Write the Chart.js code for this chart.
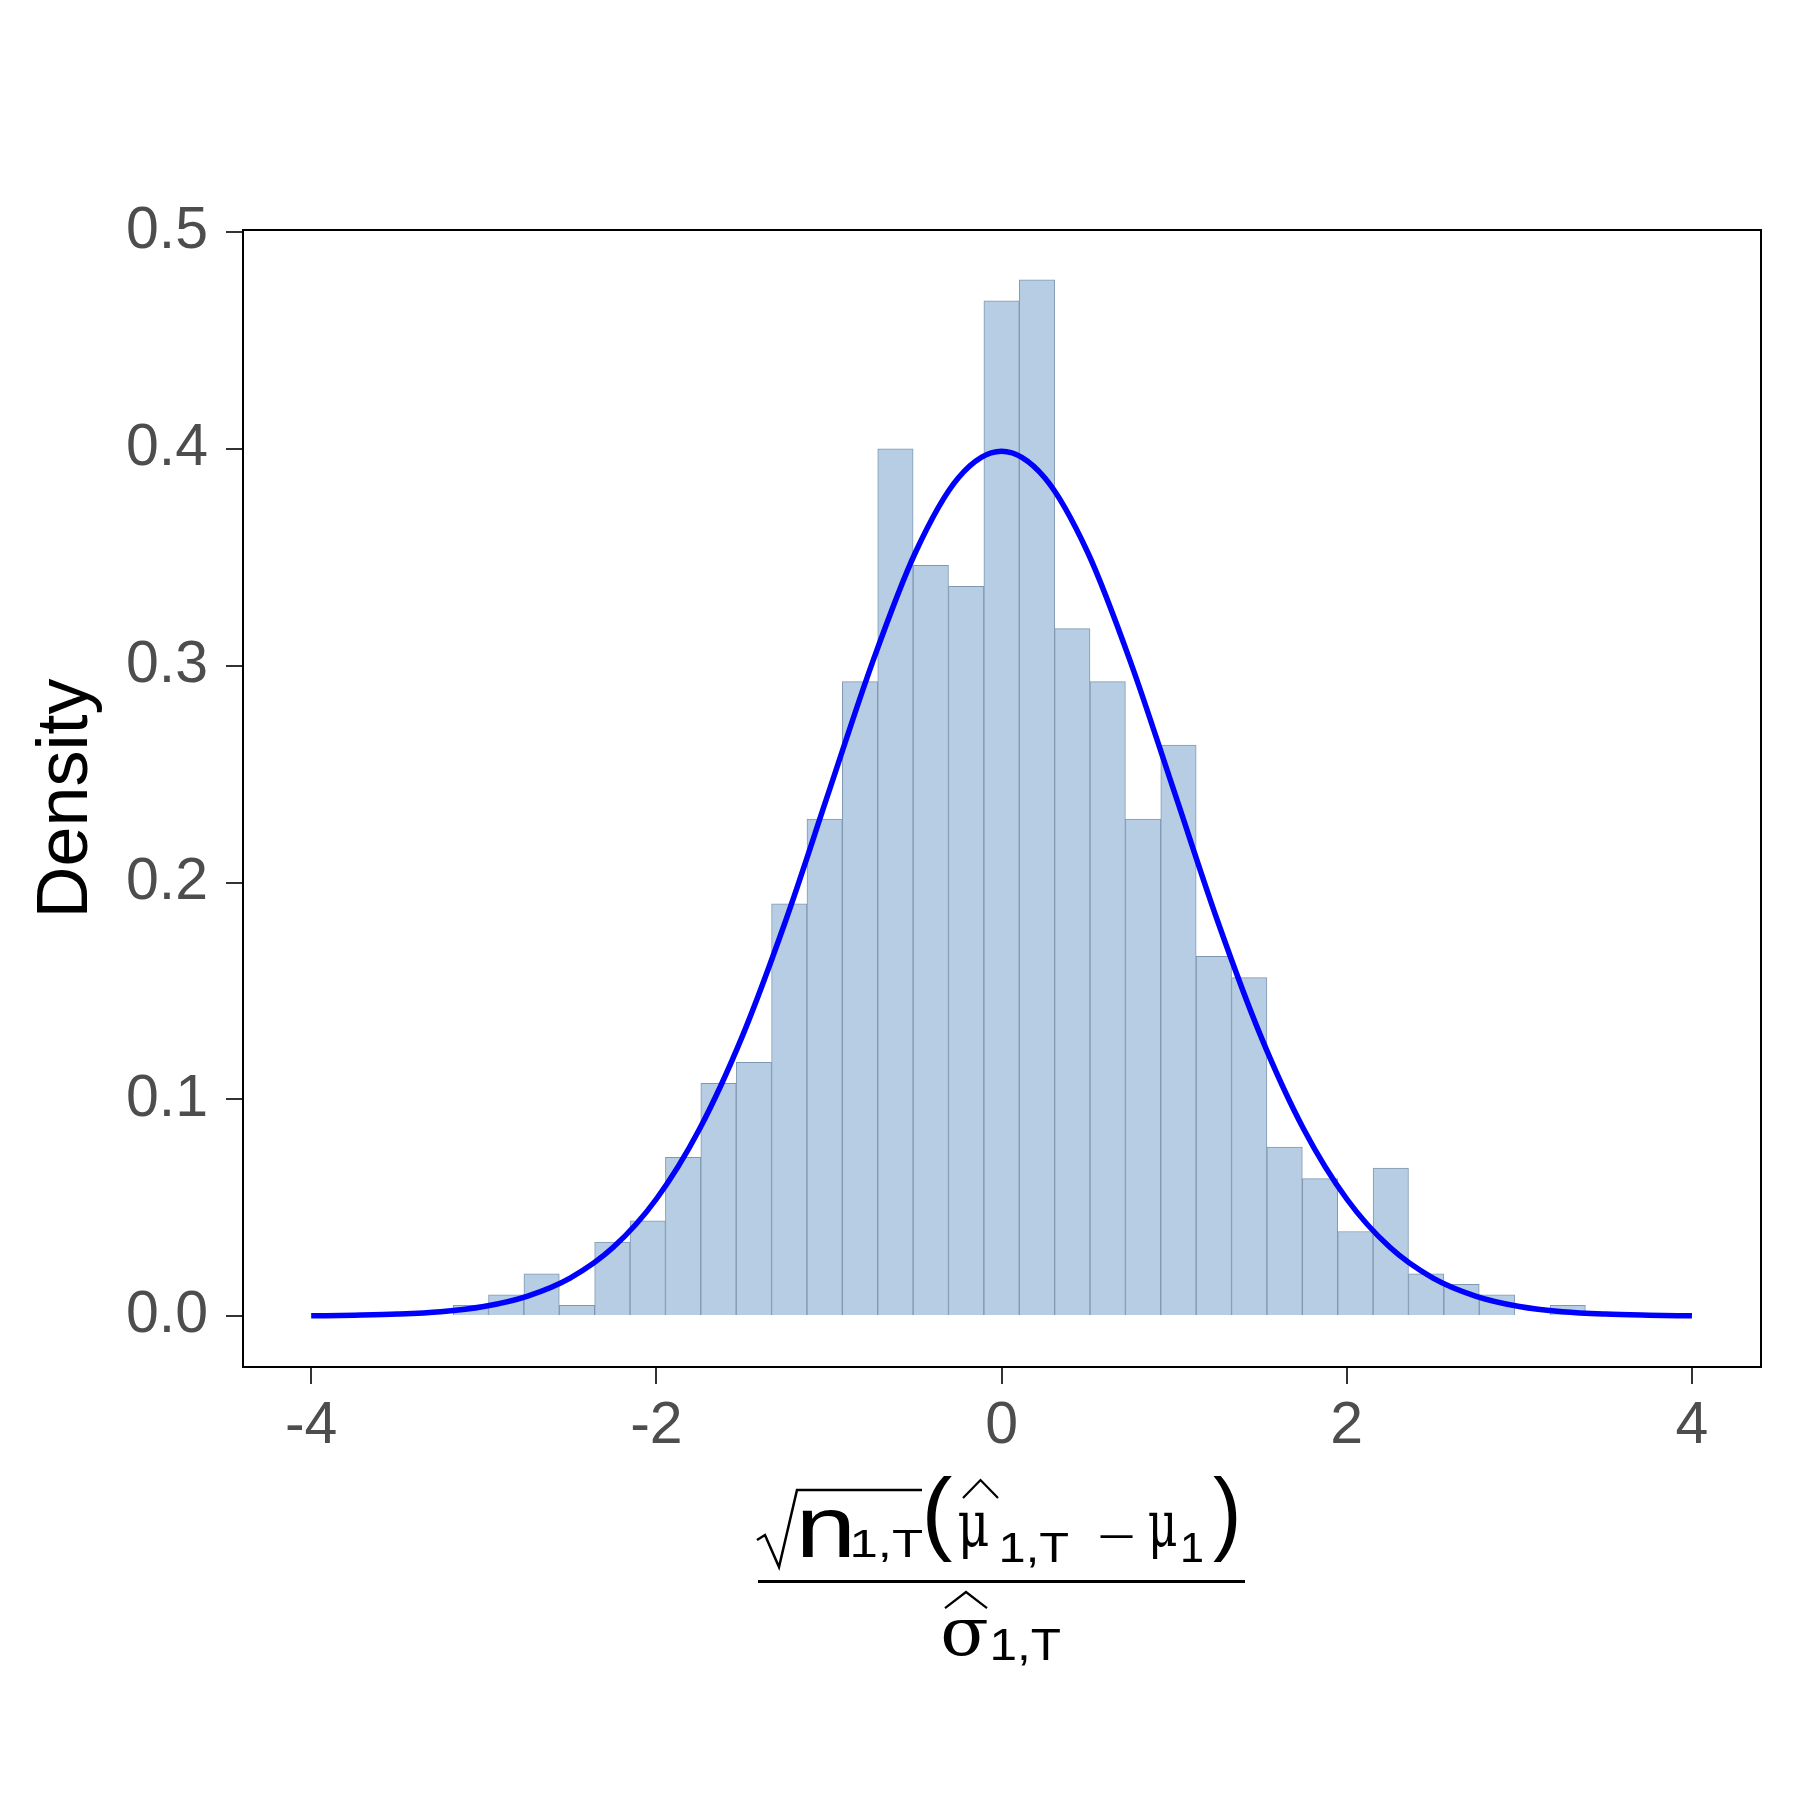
<!DOCTYPE html>
<html>
<head>
<meta charset="utf-8">
<script src="https://cdn.jsdelivr.net/npm/chart.js@4.4.0/dist/chart.umd.min.js"></script>
<style>
  html, body { margin: 0; padding: 0; background: #fff; }
  #hist { display: block; }
</style>
</head>
<body>
<canvas id="hist" width="1800" height="1800"></canvas>
<script>
// histogram bins (centre of each bin) and their densities
var binCenters = [-3.075, -2.87, -2.665, -2.46, -2.255, -2.05, -1.845, -1.64, -1.435, -1.23, -1.025, -0.82, -0.615, -0.41, -0.205, 0,
                  0.205, 0.41, 0.615, 0.82, 1.025, 1.23, 1.435, 1.64, 1.845, 2.05, 2.255, 2.46, 2.665, 2.87, 3.075, 3.28];
var densities = [0.0049, 0.0098, 0.0195, 0.0049, 0.0341, 0.0439, 0.0732, 0.1073, 0.1171, 0.1902, 0.2293, 0.2927, 0.4000, 0.3463, 0.3366, 0.4683,
                 0.4780, 0.3171, 0.2927, 0.2293, 0.2634, 0.1659, 0.1561, 0.0780, 0.0634, 0.0390, 0.0683, 0.0195, 0.0146, 0.0098, 0, 0.0049];

// blue reference curve
var curveX = [-4, -3.75, -3.5, -3.25, -3, -2.75, -2.5, -2.25, -2, -1.75, -1.5, -1.25, -1, -0.75, -0.5, -0.25, 0,
              0.25, 0.5, 0.75, 1, 1.25, 1.5, 1.75, 2, 2.25, 2.5, 2.75, 3, 3.25, 3.5, 3.75, 4];
var curveY = [0.0001, 0.0004, 0.0009, 0.0020, 0.0044, 0.0091, 0.0175, 0.0317, 0.0540, 0.0863, 0.1295, 0.1826, 0.2420, 0.3011, 0.3521, 0.3867, 0.3989,
              0.3867, 0.3521, 0.3011, 0.2420, 0.1826, 0.1295, 0.0863, 0.0540, 0.0317, 0.0175, 0.0091, 0.0044, 0.0020, 0.0009, 0.0004, 0.0001];

var xTicks = [-4, -2, 0, 2, 4];
var yTicks = [0, 0.1, 0.2, 0.3, 0.4, 0.5];

var SANS = '"Liberation Sans", Arial, Helvetica, sans-serif';
var SERIF = '"DejaVu Serif", "Liberation Serif", serif';

// draw str so its ink box fills [x0,x1] wide, top..base (ascent only)
function fitA(ctx, str, font, x0, x1, top, base) {
	ctx.save();
	ctx.font = '100px ' + font;
	ctx.textBaseline = 'alphabetic';
	ctx.textAlign = 'left';
	var m = ctx.measureText(str);
	var w = m.actualBoundingBoxLeft + m.actualBoundingBoxRight;
	var sx = (x1 - x0) / w, sy = (base - top) / m.actualBoundingBoxAscent;
	ctx.translate(x0, base);
	ctx.scale(sx, sy);
	ctx.fillText(str, m.actualBoundingBoxLeft, 0);
	ctx.restore();
}
// same but fits whole ink box (ascent + descent)
function fitFull(ctx, str, font, x0, x1, top, bottom) {
	ctx.save();
	ctx.font = '100px ' + font;
	ctx.textBaseline = 'alphabetic';
	ctx.textAlign = 'left';
	var m = ctx.measureText(str);
	var w = m.actualBoundingBoxLeft + m.actualBoundingBoxRight;
	var h = m.actualBoundingBoxAscent + m.actualBoundingBoxDescent;
	var sx = (x1 - x0) / w, sy = (bottom - top) / h;
	ctx.translate(x0, top);
	ctx.scale(sx, sy);
	ctx.fillText(str, m.actualBoundingBoxLeft, m.actualBoundingBoxAscent);
	ctx.restore();
}
function hat(ctx, x0, x1, yTop, yBot) {
	ctx.beginPath();
	ctx.moveTo(x0, yBot);
	ctx.lineTo((x0 + x1) / 2, yTop);
	ctx.lineTo(x1, yBot);
	ctx.stroke();
}

var decorations = {
	id: 'decorations',
	afterDraw: function(chart) {
		var ctx = chart.ctx, a = chart.chartArea;
		ctx.save();
		// panel border
		ctx.strokeStyle = '#000';
		ctx.lineWidth = 2;
		ctx.strokeRect(a.left, a.top, a.right - a.left, a.bottom - a.top);

		// y title
		ctx.fillStyle = '#000';
		ctx.font = '72px ' + SANS;
		ctx.textAlign = 'center';
		ctx.textBaseline = 'alphabetic';
		ctx.save();
		ctx.translate(87, (a.top + a.bottom) / 2);
		ctx.rotate(-Math.PI / 2);
		ctx.fillText('Density', 0, 0);
		ctx.restore();

		// x title: sqrt(n_1,T)(mu-hat_1,T - mu_1) / sigma-hat_1,T
		var d = (a.left + a.right) / 2 - 1002;
		ctx.translate(d, 0);
		ctx.lineWidth = 2.5;
		ctx.lineJoin = 'miter';
		ctx.beginPath();
		ctx.moveTo(757, 1540);
		ctx.lineTo(765, 1535);
		ctx.lineTo(779, 1567);
		ctx.lineTo(797, 1490);
		ctx.lineTo(922, 1490);
		ctx.stroke();
		fitA(ctx, 'n', SANS, 802, 850, 1510, 1557);
		fitA(ctx, '1,T', SANS, 853, 922, 1530, 1557);
		fitFull(ctx, '(', SANS, 927, 952, 1475, 1562);
		ctx.lineWidth = 2.2;
		hat(ctx, 963, 998, 1480, 1498);
		fitFull(ctx, 'μ', SERIF, 959, 988, 1513, 1560);
		fitA(ctx, '1,T', SANS, 1002, 1068, 1533, 1562);
		fitFull(ctx, '−', SANS, 1100, 1133, 1535.5, 1538.5);
		fitFull(ctx, 'μ', SERIF, 1149, 1176, 1513, 1560);
		fitA(ctx, '1', SANS, 1183, 1202, 1533, 1562);
		fitFull(ctx, ')', SANS, 1213, 1237, 1475, 1562);
		// fraction bar
		ctx.lineWidth = 3;
		ctx.beginPath();
		ctx.moveTo(758, 1581.5);
		ctx.lineTo(1245, 1581.5);
		ctx.stroke();
		// denominator
		ctx.lineWidth = 2.2;
		hat(ctx, 945, 987, 1592, 1608);
		fitFull(ctx, 'σ', SERIF, 943, 987, 1620, 1656);
		fitA(ctx, '1,T', SANS, 993, 1060, 1630, 1660);
		ctx.restore();
	}
};

var barData = binCenters.map(function(x, i) { return { x: x, y: densities[i] }; });
var lineData = curveX.map(function(x, i) { return { x: x, y: curveY[i] }; });

var ctx = document.getElementById('hist').getContext('2d');
var myChart = new Chart(ctx, {
	type: 'bar',
	data: {
		datasets: [
			{
				type: 'line',
				data: lineData,
				borderColor: '#0000ff',
				borderWidth: 5.5,
				pointRadius: 0,
				fill: false,
				cubicInterpolationMode: 'monotone',
				order: 0
			},
			{
				type: 'bar',
				data: barData,
				backgroundColor: '#b7cde3',
				borderColor: '#7f98b2',
				borderWidth: 1,
				borderSkipped: 'start',
				barPercentage: 1,
				categoryPercentage: 1,
				order: 1
			}
		]
	},
	options: {
		responsive: false,
		animation: false,
		devicePixelRatio: 1,
		layout: { padding: { left: 0, top: 230, right: 39, bottom: 0 } },
		plugins: { legend: { display: false }, tooltip: { enabled: false } },
		scales: {
			x: {
				type: 'linear',
				offset: false,
				min: -4.395,
				max: 4.4,
				afterFit: function(s) { s.height = 433; },
				afterBuildTicks: function(s) { s.ticks = xTicks.map(function(v) { return { value: v }; }); },
				grid: { display: true, drawOnChartArea: false, drawTicks: true, tickLength: 17, color: '#333333', lineWidth: 2, offset: false },
				border: { display: false },
				ticks: {
					font: { family: SANS, size: 59 },
					color: '#4d4d4d',
					padding: 7,
					maxRotation: 0,
					callback: function(v) { return String(v); }
				}
			},
			y: {
				min: -0.0235,
				max: 0.501,
				afterFit: function(s) { s.width = 243; },
				afterBuildTicks: function(s) { s.ticks = yTicks.map(function(v) { return { value: v }; }); },
				grid: { display: true, drawOnChartArea: false, drawTicks: true, tickLength: 17, color: '#333333', lineWidth: 2 },
				border: { display: false },
				ticks: {
					font: { family: SANS, size: 59 },
					color: '#4d4d4d',
					padding: 18,
					callback: function(v) { return v.toFixed(1); }
				}
			}
		}
	},
	plugins: [decorations]
});
</script>
</body>
</html>
